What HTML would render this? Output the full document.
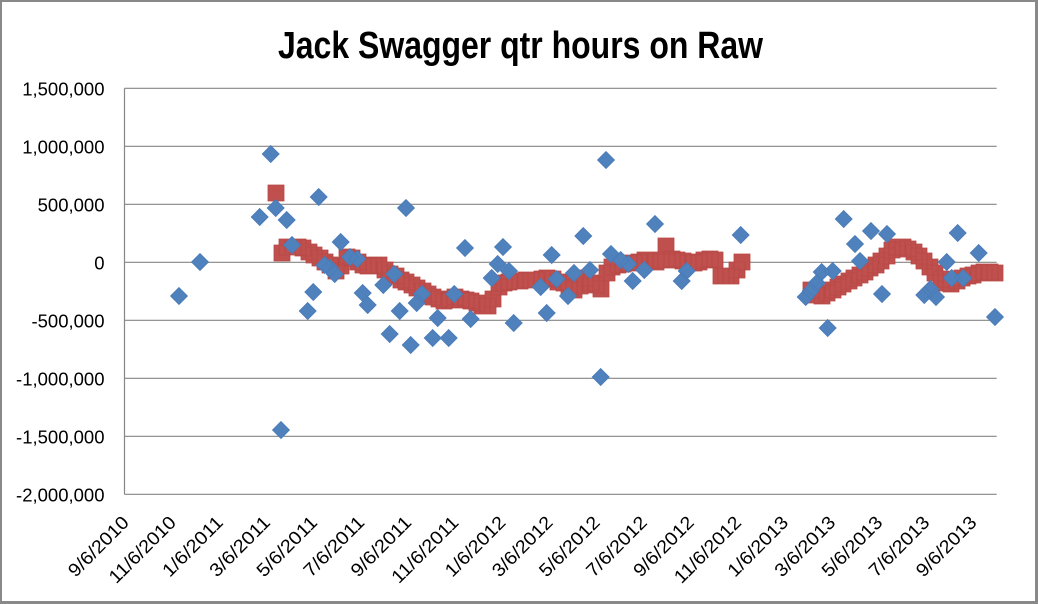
<!DOCTYPE html>
<html>
<head>
<meta charset="utf-8">
<style>
  html, body { margin: 0; padding: 0; background: #fff; }
  svg { display: block; }
  text { font-family: "Liberation Sans", Arial, sans-serif; fill: #000; }
</style>
</head>
<body>
<svg width="1038" height="604" viewBox="0 0 1038 604" xmlns="http://www.w3.org/2000/svg">
<rect x="0" y="0" width="1038" height="604" fill="#fff"/>
<rect x="0" y="0" width="1038" height="2" fill="#898989"/>
<rect x="0" y="0" width="2" height="604" fill="#898989"/>
<rect x="1035" y="0" width="3" height="604" fill="#898989"/>
<rect x="0" y="601" width="1038" height="3" fill="#898989"/>
<text x="278" y="58" font-size="38" font-weight="bold" textLength="485" lengthAdjust="spacingAndGlyphs">Jack Swagger qtr hours on Raw</text>
<path stroke="#868686" stroke-width="1.2" fill="none" d="M124.5 88.3H996.7M124.5 146.3H996.7M124.5 204.3H996.7M124.5 262.3H996.7M124.5 320.3H996.7M124.5 378.3H996.7M124.5 436.3H996.7M124.5 494.3H996.7M124.5 88.3V494.3"/>
<g font-size="18.5" text-anchor="end">
<text x="104.5" y="95.5">1,500,000</text>
<text x="104.5" y="153.5">1,000,000</text>
<text x="104.5" y="211.5">500,000</text>
<text x="104.5" y="269.5">0</text>
<text x="104.5" y="327.5">-500,000</text>
<text x="104.5" y="385.5">-1,000,000</text>
<text x="104.5" y="443.5">-1,500,000</text>
<text x="104.5" y="501.5">-2,000,000</text>
</g>
<g font-size="18.5" text-anchor="end">
<text transform="translate(130,523.6) rotate(-45)" textLength="77" lengthAdjust="spacingAndGlyphs">9/6/2010</text>
<text transform="translate(177.1,523.6) rotate(-45)" textLength="86" lengthAdjust="spacingAndGlyphs">11/6/2010</text>
<text transform="translate(224.2,523.6) rotate(-45)" textLength="77" lengthAdjust="spacingAndGlyphs">1/6/2011</text>
<text transform="translate(271.3,523.6) rotate(-45)" textLength="77" lengthAdjust="spacingAndGlyphs">3/6/2011</text>
<text transform="translate(318.4,523.6) rotate(-45)" textLength="77" lengthAdjust="spacingAndGlyphs">5/6/2011</text>
<text transform="translate(365.5,523.6) rotate(-45)" textLength="77" lengthAdjust="spacingAndGlyphs">7/6/2011</text>
<text transform="translate(412.6,523.6) rotate(-45)" textLength="77" lengthAdjust="spacingAndGlyphs">9/6/2011</text>
<text transform="translate(459.7,523.6) rotate(-45)" textLength="86" lengthAdjust="spacingAndGlyphs">11/6/2011</text>
<text transform="translate(506.8,523.6) rotate(-45)" textLength="77" lengthAdjust="spacingAndGlyphs">1/6/2012</text>
<text transform="translate(553.9,523.6) rotate(-45)" textLength="77" lengthAdjust="spacingAndGlyphs">3/6/2012</text>
<text transform="translate(601,523.6) rotate(-45)" textLength="77" lengthAdjust="spacingAndGlyphs">5/6/2012</text>
<text transform="translate(648.1,523.6) rotate(-45)" textLength="77" lengthAdjust="spacingAndGlyphs">7/6/2012</text>
<text transform="translate(695.2,523.6) rotate(-45)" textLength="77" lengthAdjust="spacingAndGlyphs">9/6/2012</text>
<text transform="translate(742.3,523.6) rotate(-45)" textLength="86" lengthAdjust="spacingAndGlyphs">11/6/2012</text>
<text transform="translate(789.4,523.6) rotate(-45)" textLength="77" lengthAdjust="spacingAndGlyphs">1/6/2013</text>
<text transform="translate(836.5,523.6) rotate(-45)" textLength="77" lengthAdjust="spacingAndGlyphs">3/6/2013</text>
<text transform="translate(883.6,523.6) rotate(-45)" textLength="77" lengthAdjust="spacingAndGlyphs">5/6/2013</text>
<text transform="translate(930.7,523.6) rotate(-45)" textLength="77" lengthAdjust="spacingAndGlyphs">7/6/2013</text>
<text transform="translate(977.8,523.6) rotate(-45)" textLength="77" lengthAdjust="spacingAndGlyphs">9/6/2013</text>
</g>
<path fill="#C0504D" stroke="#B64845" stroke-width="0.8" d="M268 185h16v16h-16z M274 245h16v16h-16z M279 239h16v16h-16z M285 239h16v16h-16z M290 239h16v16h-16z M295 240h16v16h-16z M301 244h16v16h-16z M306 247h16v16h-16z M312 250h16v16h-16z M317 254h16v16h-16z M322 257h16v16h-16z M328 263h16v16h-16z M333 258h16v16h-16z M339 249h16v16h-16z M344 250h16v16h-16z M350 254h16v16h-16z M355 257h16v16h-16z M360 258h16v16h-16z M366 258h16v16h-16z M371 257h16v16h-16z M377 262h16v16h-16z M382 266h16v16h-16z M388 268h16v16h-16z M393 272h16v16h-16z M398 274h16v16h-16z M404 277h16v16h-16z M409 280h16v16h-16z M415 283h16v16h-16z M420 286h16v16h-16z M425 289h16v16h-16z M431 291h16v16h-16z M436 293h16v16h-16z M442 292h16v16h-16z M447 289h16v16h-16z M453 291h16v16h-16z M458 292h16v16h-16z M463 293h16v16h-16z M469 295h16v16h-16z M474 298h16v16h-16z M480 298h16v16h-16z M485 291h16v16h-16z M491 279h16v16h-16z M496 275h16v16h-16z M501 274h16v16h-16z M507 273h16v16h-16z M512 273h16v16h-16z M518 272h16v16h-16z M523 272h16v16h-16z M528 272h16v16h-16z M534 271h16v16h-16z M539 270h16v16h-16z M545 271h16v16h-16z M550 274h16v16h-16z M556 275h16v16h-16z M561 280h16v16h-16z M566 282h16v16h-16z M572 278h16v16h-16z M577 270h16v16h-16z M583 275h16v16h-16z M588 277h16v16h-16z M593 281h16v16h-16z M599 265h16v16h-16z M604 259h16v16h-16z M610 257h16v16h-16z M615 256h16v16h-16z M621 255h16v16h-16z M626 255h16v16h-16z M631 254h16v16h-16z M637 252h16v16h-16z M642 254h16v16h-16z M648 254h16v16h-16z M653 252h16v16h-16z M658 238h16v16h-16z M664 251h16v16h-16z M669 252h16v16h-16z M675 253h16v16h-16z M680 255h16v16h-16z M686 255h16v16h-16z M691 254h16v16h-16z M696 252h16v16h-16z M702 251h16v16h-16z M707 252h16v16h-16z M713 268h16v16h-16z M718 268h16v16h-16z M723 268h16v16h-16z M729 262h16v16h-16z M734 254h16v16h-16z M803 282h16v16h-16z M808 287h16v16h-16z M814 288h16v16h-16z M819 285h16v16h-16z M825 282h16v16h-16z M830 279h16v16h-16z M835 276h16v16h-16z M841 273h16v16h-16z M846 270h16v16h-16z M852 267h16v16h-16z M857 264h16v16h-16z M862 260h16v16h-16z M868 257h16v16h-16z M873 253h16v16h-16z M879 248h16v16h-16z M884 242h16v16h-16z M889 239h16v16h-16z M895 239h16v16h-16z M900 241h16v16h-16z M906 244h16v16h-16z M911 248h16v16h-16z M916 253h16v16h-16z M922 259h16v16h-16z M927 265h16v16h-16z M933 271h16v16h-16z M938 275h16v16h-16z M943 276h16v16h-16z M949 273h16v16h-16z M954 270h16v16h-16z M960 268h16v16h-16z M965 267h16v16h-16z M971 265h16v16h-16z M976 264h16v16h-16z M982 264h16v16h-16z M987 265h16v16h-16z"/>
<path fill="#4F81BD" stroke="#4A7BB7" stroke-width="0.8" d="M179 287.5l8.5 8.5-8.5 8.5-8.5-8.5z M200 253.5l8.5 8.5-8.5 8.5-8.5-8.5z M259.7 208.5l8.5 8.5-8.5 8.5-8.5-8.5z M270.7 145.5l8.5 8.5-8.5 8.5-8.5-8.5z M275.7 199.5l8.5 8.5-8.5 8.5-8.5-8.5z M281 421.5l8.5 8.5-8.5 8.5-8.5-8.5z M286.7 211.5l8.5 8.5-8.5 8.5-8.5-8.5z M292 236.5l8.5 8.5-8.5 8.5-8.5-8.5z M307.7 302.5l8.5 8.5-8.5 8.5-8.5-8.5z M313.3 283.5l8.5 8.5-8.5 8.5-8.5-8.5z M318.7 188.5l8.5 8.5-8.5 8.5-8.5-8.5z M324.7 256.5l8.5 8.5-8.5 8.5-8.5-8.5z M330 259.5l8.5 8.5-8.5 8.5-8.5-8.5z M334.7 265.5l8.5 8.5-8.5 8.5-8.5-8.5z M340.7 233.5l8.5 8.5-8.5 8.5-8.5-8.5z M350 248.5l8.5 8.5-8.5 8.5-8.5-8.5z M357.3 250.5l8.5 8.5-8.5 8.5-8.5-8.5z M362.7 284.5l8.5 8.5-8.5 8.5-8.5-8.5z M367.7 296.5l8.5 8.5-8.5 8.5-8.5-8.5z M383.3 276.5l8.5 8.5-8.5 8.5-8.5-8.5z M389.7 325.5l8.5 8.5-8.5 8.5-8.5-8.5z M394.3 265.5l8.5 8.5-8.5 8.5-8.5-8.5z M399.7 302.5l8.5 8.5-8.5 8.5-8.5-8.5z M406 199.5l8.5 8.5-8.5 8.5-8.5-8.5z M410.7 336.5l8.5 8.5-8.5 8.5-8.5-8.5z M416.7 294.5l8.5 8.5-8.5 8.5-8.5-8.5z M422 285.5l8.5 8.5-8.5 8.5-8.5-8.5z M432.7 329.5l8.5 8.5-8.5 8.5-8.5-8.5z M437.7 309.5l8.5 8.5-8.5 8.5-8.5-8.5z M448.7 329.5l8.5 8.5-8.5 8.5-8.5-8.5z M454.3 285.5l8.5 8.5-8.5 8.5-8.5-8.5z M465 239.5l8.5 8.5-8.5 8.5-8.5-8.5z M470.7 310.5l8.5 8.5-8.5 8.5-8.5-8.5z M491.7 269.5l8.5 8.5-8.5 8.5-8.5-8.5z M497.7 255.5l8.5 8.5-8.5 8.5-8.5-8.5z M503 238.5l8.5 8.5-8.5 8.5-8.5-8.5z M509 262.5l8.5 8.5-8.5 8.5-8.5-8.5z M513.7 314.5l8.5 8.5-8.5 8.5-8.5-8.5z M540.7 278.5l8.5 8.5-8.5 8.5-8.5-8.5z M546.7 304.5l8.5 8.5-8.5 8.5-8.5-8.5z M551.7 246.5l8.5 8.5-8.5 8.5-8.5-8.5z M556.7 270.5l8.5 8.5-8.5 8.5-8.5-8.5z M568 287.5l8.5 8.5-8.5 8.5-8.5-8.5z M574 264.5l8.5 8.5-8.5 8.5-8.5-8.5z M583.3 227.5l8.5 8.5-8.5 8.5-8.5-8.5z M590 261.5l8.5 8.5-8.5 8.5-8.5-8.5z M600.7 368.5l8.5 8.5-8.5 8.5-8.5-8.5z M606 151.5l8.5 8.5-8.5 8.5-8.5-8.5z M611 245.5l8.5 8.5-8.5 8.5-8.5-8.5z M620.7 251.5l8.5 8.5-8.5 8.5-8.5-8.5z M628.3 255.5l8.5 8.5-8.5 8.5-8.5-8.5z M632.7 272.5l8.5 8.5-8.5 8.5-8.5-8.5z M644.3 261.5l8.5 8.5-8.5 8.5-8.5-8.5z M655 215.5l8.5 8.5-8.5 8.5-8.5-8.5z M681.7 272.5l8.5 8.5-8.5 8.5-8.5-8.5z M686.7 262.5l8.5 8.5-8.5 8.5-8.5-8.5z M740.7 226.5l8.5 8.5-8.5 8.5-8.5-8.5z M805.7 288.5l8.5 8.5-8.5 8.5-8.5-8.5z M810.7 282.5l8.5 8.5-8.5 8.5-8.5-8.5z M816.7 274.5l8.5 8.5-8.5 8.5-8.5-8.5z M821.7 263.5l8.5 8.5-8.5 8.5-8.5-8.5z M827.7 319.5l8.5 8.5-8.5 8.5-8.5-8.5z M832.7 262.5l8.5 8.5-8.5 8.5-8.5-8.5z M843.7 210.5l8.5 8.5-8.5 8.5-8.5-8.5z M855 235.5l8.5 8.5-8.5 8.5-8.5-8.5z M860 252.5l8.5 8.5-8.5 8.5-8.5-8.5z M871 222.5l8.5 8.5-8.5 8.5-8.5-8.5z M882 285.5l8.5 8.5-8.5 8.5-8.5-8.5z M887 225.5l8.5 8.5-8.5 8.5-8.5-8.5z M924.3 286.5l8.5 8.5-8.5 8.5-8.5-8.5z M930.3 280.5l8.5 8.5-8.5 8.5-8.5-8.5z M936 288.5l8.5 8.5-8.5 8.5-8.5-8.5z M946.7 253.5l8.5 8.5-8.5 8.5-8.5-8.5z M951.7 269.5l8.5 8.5-8.5 8.5-8.5-8.5z M957.7 224.5l8.5 8.5-8.5 8.5-8.5-8.5z M963.3 269.5l8.5 8.5-8.5 8.5-8.5-8.5z M978.7 244.5l8.5 8.5-8.5 8.5-8.5-8.5z M995 308.5l8.5 8.5-8.5 8.5-8.5-8.5z"/>
</svg>
</body>
</html>
